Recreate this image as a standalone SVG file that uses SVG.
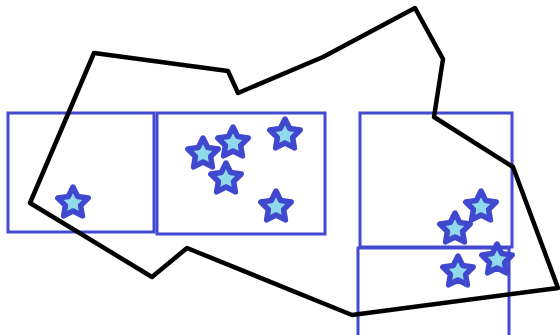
<svg xmlns="http://www.w3.org/2000/svg" width="560" height="335" viewBox="0 0 560 335">
<style>
.box{fill:none;stroke:#4349d0;stroke-width:3}
.poly{fill:none;stroke:#000;stroke-width:4.5;stroke-linejoin:round}
.star{fill:#8fd9ea;stroke:#4048cf;stroke-width:5.5;stroke-linejoin:round}
</style>
<defs>
<polygon id="st" points="0,-16 4.70,-6.47 15.22,-4.94 7.61,2.47 9.40,12.94 0,8 -9.40,12.94 -7.61,2.47 -15.22,-4.94 -4.70,-6.47"/>
</defs>
<rect width="560" height="335" fill="#fff"/>
<g id="boxes">
<rect id="box1" class="box" x="8" y="113" width="146" height="119"/>
<rect id="box2" class="box" x="157" y="113" width="168" height="121"/>
<rect id="box3" class="box" x="360" y="113" width="152" height="134"/>
<rect id="box4" class="box" x="358" y="248" width="151" height="92"/>
</g>
<g id="region">
<polygon class="poly" points="94,53 228,71 238,93 323,57 415,8 443,59 434,117 513,167 558,288 352,315 187,248 152,277 30,203"/>
</g>
<g id="stars">
<use class="star" href="#st" x="73" y="203"/>
<use class="star" href="#st" x="203" y="154"/>
<use class="star" href="#st" x="233" y="143"/>
<use class="star" href="#st" x="285" y="135"/>
<use class="star" href="#st" x="226" y="179"/>
<use class="star" href="#st" x="276" y="207"/>
<use class="star" href="#st" x="481" y="207"/>
<use class="star" href="#st" x="455" y="229"/>
<use class="star" href="#st" x="497" y="260"/>
<use class="star" href="#st" x="458" y="272"/>
</g>
</svg>
